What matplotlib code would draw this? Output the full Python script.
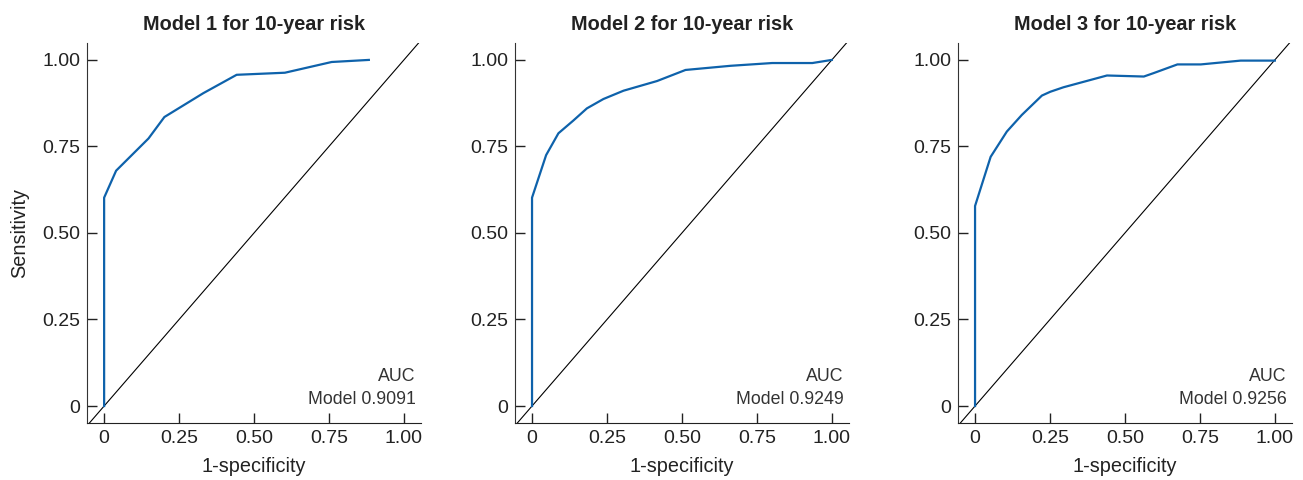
import numpy as np
import matplotlib.pyplot as plt

plt.rcParams['font.family'] = ['Liberation Sans', 'DejaVu Sans']

titles = ['Model 1 for 10-year risk', 'Model 2 for 10-year risk', 'Model 3 for 10-year risk']
auc_values = ['0.9091', '0.9249', '0.9256']

# ROC points (1-specificity, sensitivity)
fpr1 = [0, 0, 0.04, 0.148, 0.201, 0.331, 0.442, 0.603, 0.759, 0.883]
tpr1 = [0, 0.602, 0.68, 0.773, 0.835, 0.904, 0.957, 0.963, 0.994, 1.0]

fpr2 = [0, 0, 0.047, 0.088, 0.138, 0.183, 0.238, 0.305, 0.417, 0.512, 0.662, 0.801, 0.935, 1.0]
tpr2 = [0, 0.602, 0.725, 0.788, 0.825, 0.86, 0.887, 0.911, 0.939, 0.971, 0.983, 0.991, 0.991, 1.0]

fpr3 = [0, 0, 0.052, 0.106, 0.156, 0.223, 0.251, 0.295, 0.44, 0.563, 0.596, 0.675, 0.753, 0.886, 1.0]
tpr3 = [0, 0.578, 0.72, 0.793, 0.841, 0.897, 0.908, 0.921, 0.955, 0.952, 0.962, 0.987, 0.987, 0.998, 0.998]

curves = [(fpr1, tpr1), (fpr2, tpr2), (fpr3, tpr3)]

ticks = [0, 0.25, 0.5, 0.75, 1.0]
tick_labels = ['0', '0.25', '0.50', '0.75', '1.00']

fig = plt.figure(figsize=(13.03, 4.8), dpi=100)
lefts = [0.0668, 0.3952, 0.7352]

for i in range(3):
    ax = fig.add_axes([lefts[i], 0.1188, 0.2563, 0.7917])
    fpr, tpr = curves[i]
    # reference diagonal
    ax.axline((0, 0), (1, 1), color='black', lw=0.8)
    ax.plot(fpr, tpr, color='#0e62ab', lw=1.6)
    ax.set_xlim(-0.057, 1.057)
    ax.set_ylim(-0.049, 1.049)
    ax.set_xticks(ticks)
    ax.set_xticklabels(tick_labels)
    ax.set_yticks(ticks)
    ax.set_yticklabels(tick_labels)
    ax.tick_params(direction='in', length=7, width=1, labelsize=14, colors='#222222', pad=5)
    ax.spines['top'].set_visible(False)
    ax.spines['right'].set_visible(False)
    ax.spines['left'].set_color('#333333')
    ax.spines['bottom'].set_color('#222222')
    ax.set_title(titles[i], fontsize=14.3, fontweight='bold', color='#222222', pad=9)
    ax.set_xlabel('1-specificity', fontsize=14.3, color='#222222', labelpad=7)
    if i == 0:
        ax.set_ylabel('Sensitivity', fontsize=14.3, color='#222222', labelpad=9)
    ax.text(1.04, 0.084, 'AUC', ha='right', va='center', fontsize=12.8, color='#333333')
    ax.text(1.04, 0.02, 'Model ' + auc_values[i], ha='right', va='center', fontsize=12.8, color='#333333')

plt.savefig('out.png', dpi=100)
